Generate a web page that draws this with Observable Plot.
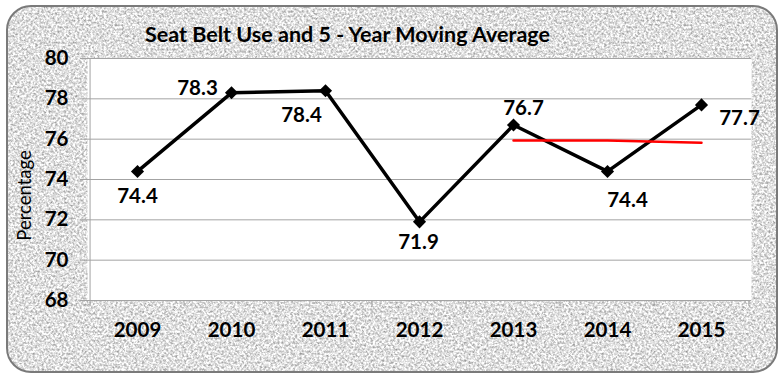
<!DOCTYPE html>
<html><head><meta charset="utf-8">
<script src="https://cdn.jsdelivr.net/npm/d3@7"></script>
<script src="https://cdn.jsdelivr.net/npm/@observablehq/plot@0.6"></script>
<style>
body{margin:0;background:#fff;}
#wrap{position:relative;width:783px;height:375px;}
#bg{position:absolute;left:0;top:0;}
#chart{position:absolute;left:0;top:0;}
#chart svg{background:transparent;}
</style></head><body>
<div id="wrap">
<svg id="bg" width="783" height="375">
<defs>
<filter id="granite" x="0" y="0" width="100%" height="100%" color-interpolation-filters="sRGB">
<feTurbulence type="fractalNoise" baseFrequency="0.45" numOctaves="3" seed="7" result="n"/>
<feColorMatrix in="n" type="matrix" values="0.75 0 0 0 0.5  0.75 0 0 0 0.5  0.75 0 0 0 0.5  0 0 0 0 1"/>
</filter>
<clipPath id="rr"><rect x="7" y="6" width="770" height="366" rx="24"/></clipPath>
</defs>
<g clip-path="url(#rr)"><rect width="783" height="375" filter="url(#granite)"/></g>
<rect x="7" y="6" width="770" height="366" rx="24" fill="none" stroke="#7a7a7a" stroke-width="2"/>
</svg>
<div id="chart"></div>
</div>
<script>
const years = ["2009","2010","2011","2012","2013","2014","2015"];
const seatBeltUse = [74.4,78.3,78.4,71.9,76.7,74.4,77.7];
const avgYears = ["2013","2014","2015"];
const movingAverage = [75.94,75.94,75.82];
const yTicks = [68,70,72,74,76,78,80];
const title = "Seat Belt Use and 5 - Year Moving Average";
const yLabel = "Percentage";

const W = 783, H = 375, ML = 87, MR = 32, MT = 58, MB = 75;
const bw = (W - ML - MR) / years.length;
const labelOffset = {"2009":[0,25],"2010":[-34,-4],"2011":[-24,25],"2012":[-1,21],"2013":[10,-17],"2014":[20,29],"2015":[38,14]};
const numFont = {fontFamily:"Lato", fontWeight:"bold", fontSize:20.5};
const grid = "#a3a3a3";

const data = years.map((y,i)=>({year:y, value:seatBeltUse[i]}));
const avg = avgYears.map((y,i)=>({year:y, value:movingAverage[i]}));

const chart = Plot.plot({
  width: W, height: H,
  marginLeft: ML, marginRight: MR, marginTop: MT, marginBottom: MB,
  style: {background: "transparent"},
  x: {type: "band", domain: years, padding: 0, axis: null},
  y: {domain: [68, 80], axis: null},
  marks: [
    Plot.frame({fill: "white", stroke: null}),
    Plot.gridY(yTicks, {stroke: grid, strokeOpacity: 1}),
    Plot.axisY(yTicks, {tickSize: 7, tickPadding: 12, stroke: grid, fill: "black", label: null, ...numFont}),
    Plot.ruleX([years[0]], {x: d=>d, y1: 80, y2: 68, dx: -bw/2, stroke: grid}),
    Plot.ruleX(years, {x: d=>d, y1: 68, y2: 68, insetBottom: -6, dx: -bw/2, stroke: grid}),
    Plot.ruleX([years[years.length-1]], {x: d=>d, y1: 68, y2: 68, insetBottom: -6, dx: bw/2, stroke: grid}),
    Plot.text(years, {x: d=>d, text: d=>d, frameAnchor: "bottom", dy: 30, lineAnchor: "middle", fill: "black", ...numFont}),
    Plot.line(data, {x: "year", y: "value", stroke: "black", strokeWidth: 3.5}),
    Plot.dot(data, {x: "year", y: "value", symbol: "diamond2", r: 5.9, fill: "black", stroke: null}),
    Plot.line(avg, {x: "year", y: "value", stroke: "#ff0000", strokeWidth: 2.5}),
    ...years.map(yr => Plot.text(data.filter(d => d.year === yr), {
      x: "year", y: "value", text: d => d.value.toFixed(1),
      dx: labelOffset[yr][0], dy: labelOffset[yr][1], fill: "black", ...numFont
    })),
    Plot.text([title], {text: d=>d, frameAnchor: "top", dx: -72, dy: -23, lineAnchor: "middle", fill: "black", fontFamily: "Lato", fontWeight: "bold", fontSize: 21.5}),
    Plot.text([yLabel], {text: d=>d, frameAnchor: "left", rotate: -90, dx: -62, dy: 16, textAnchor: "middle", lineAnchor: "middle", fill: "black", fontFamily: "Lato", fontSize: 18.5})
  ]
});
document.getElementById("chart").appendChild(chart);
</script>
</body></html>
